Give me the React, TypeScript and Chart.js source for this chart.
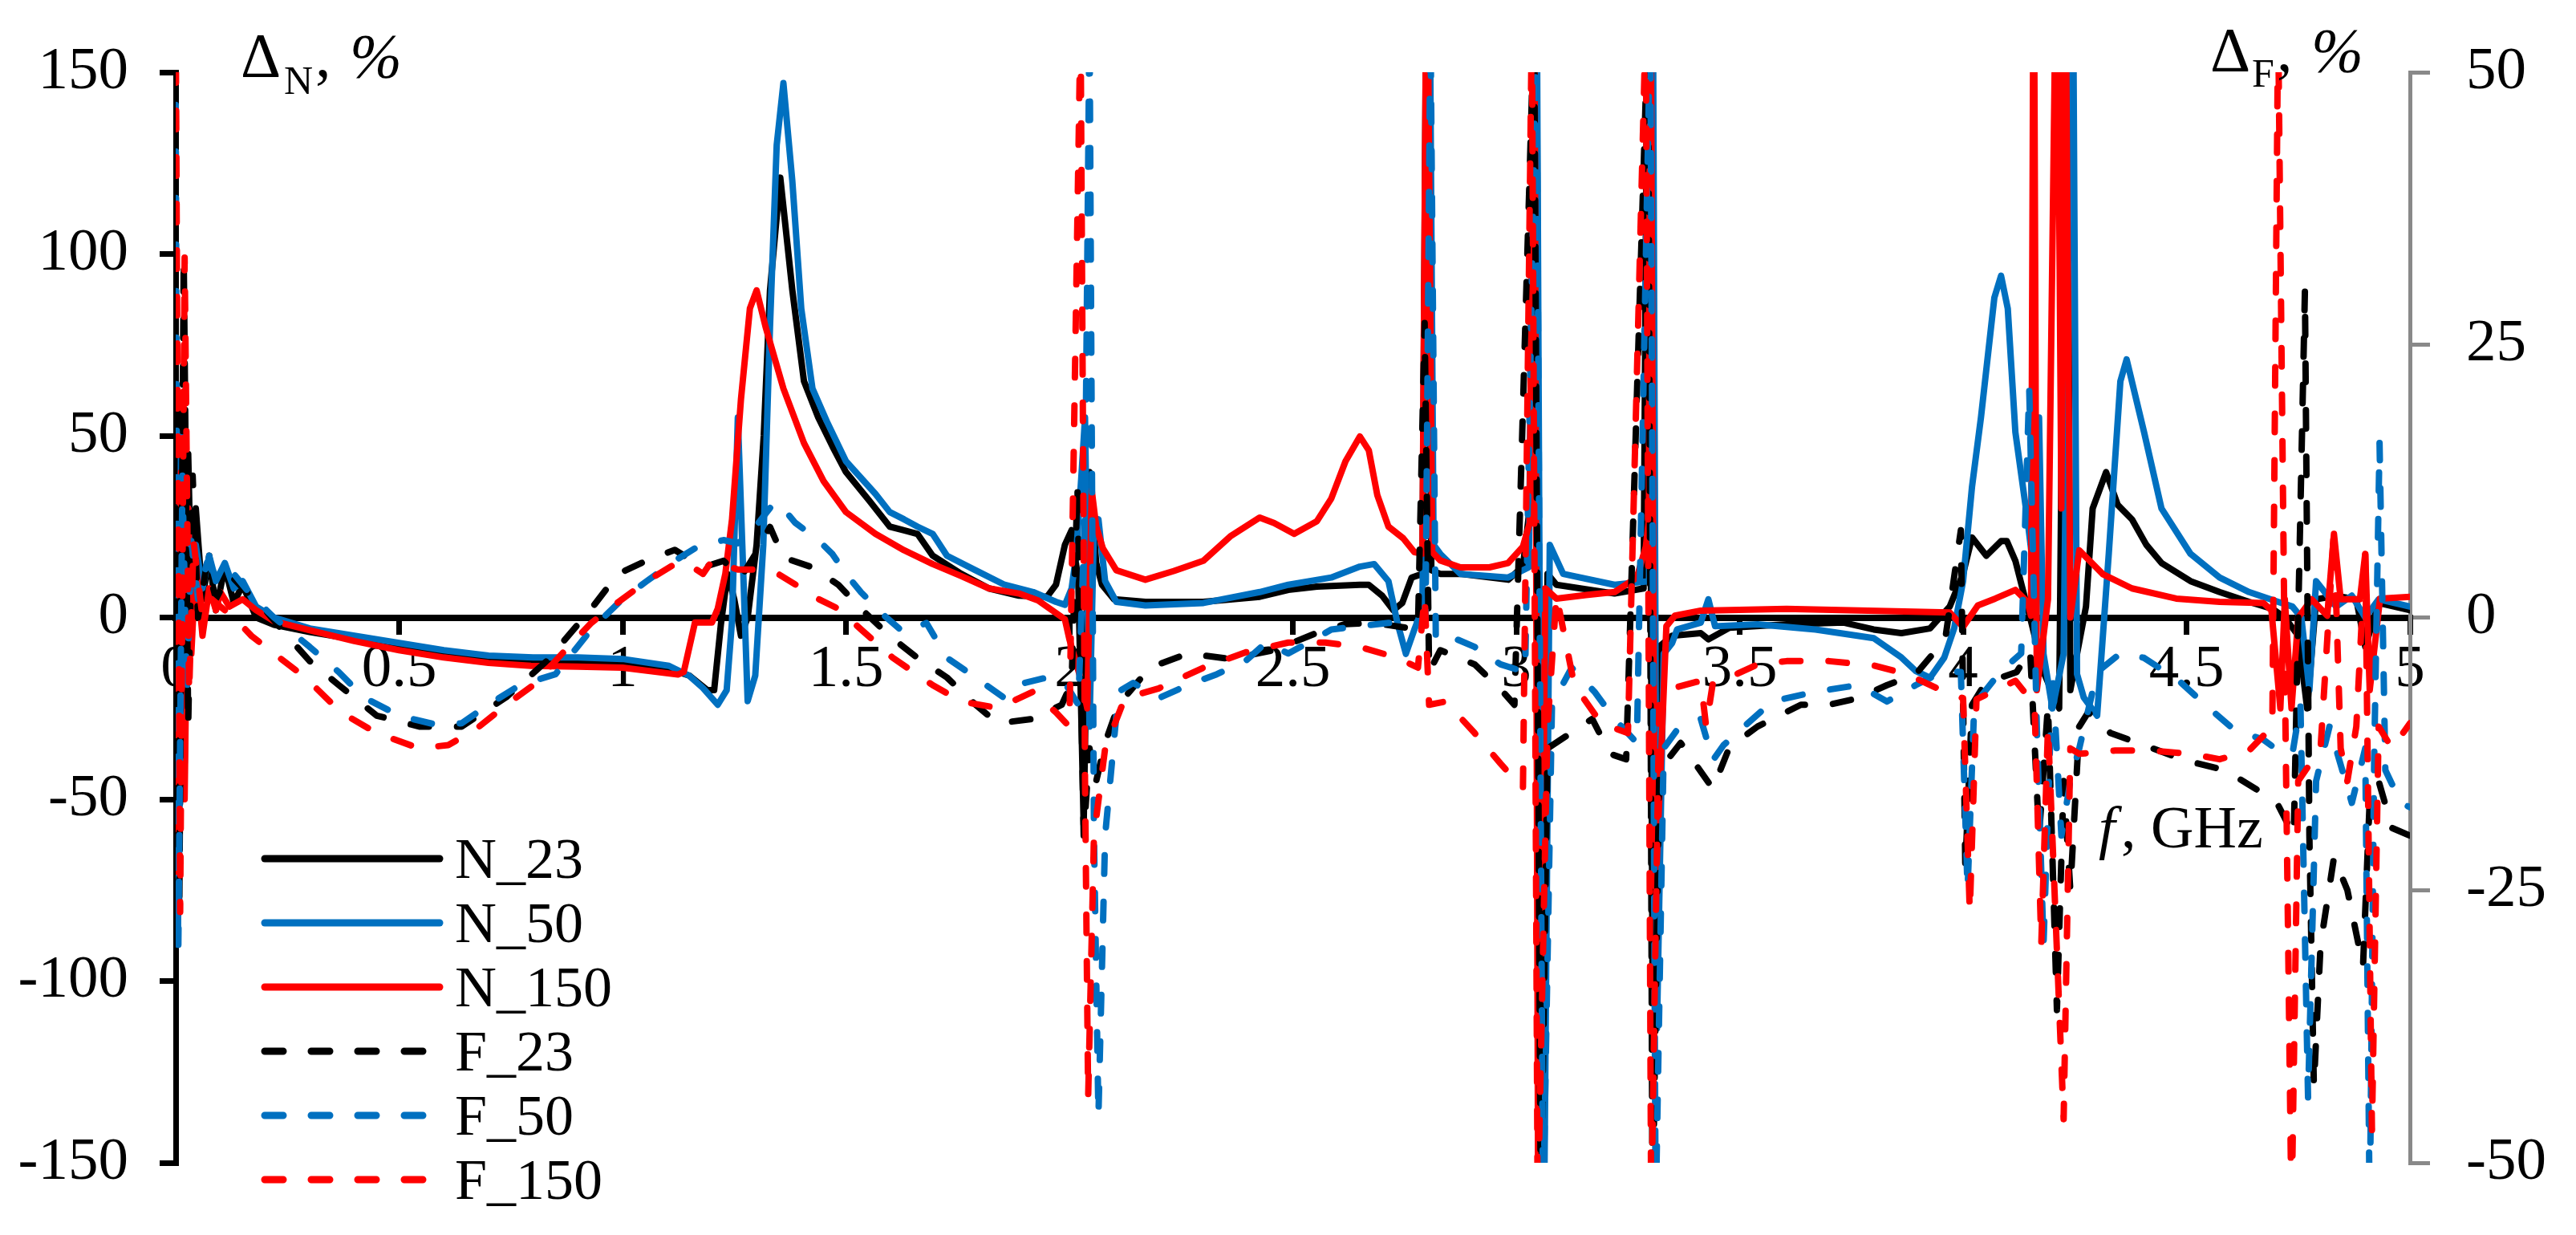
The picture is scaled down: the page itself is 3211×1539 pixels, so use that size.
import React, { useEffect, useRef } from "react";
import { Chart, registerables } from "chart.js";

Chart.register(...registerables);

const FONT = '"Liberation Serif", "Times New Roman", serif';

// ---- data: [frequency GHz, value] ----
// N series on left axis (ΔN, %), F series on right axis (ΔF, %)
const N_23: [number, number][] = [
  [0, 20], [0.005, -60], [0.012, 60], [0.02, -30], [0.028, 45], [0.035, 5], [0.045, 30], [0.06, 5],
  [0.075, 17], [0.09, 2], [0.11, 14], [0.13, 4], [0.15, 9], [0.18, 0], [0.22, -2], [0.3, -4],
  [0.4, -6], [0.5, -8], [0.6, -10], [0.7, -11], [0.8, -12], [0.9, -12], [1.0, -12.5], [1.1, -14],
  [1.15, -16], [1.19, -20], [1.205, -20], [1.22, -2], [1.235, 12], [1.25, 5], [1.265, -5], [1.28, 0],
  [1.3, 20], [1.316, 50], [1.33, 90], [1.353, 121], [1.38, 90], [1.406, 65], [1.438, 55], [1.47, 47],
  [1.5, 40], [1.553, 32], [1.598, 25], [1.63, 24], [1.66, 23], [1.694, 17], [1.758, 12], [1.82, 8],
  [1.887, 6], [1.95, 5.7], [1.97, 9], [1.99, 20], [2.005, 24], [2.02, 10], [2.032, -57], [2.045, 40],
  [2.06, 15], [2.073, 9], [2.1, 5], [2.17, 4.3], [2.3, 4.3], [2.426, 5.7], [2.49, 7.6], [2.554, 8.5],
  [2.65, 9], [2.67, 9], [2.7, 6], [2.725, 2], [2.745, 4], [2.766, 11], [2.79, 12], [2.8, 200],
  [2.81, 13], [2.83, 12], [2.875, 12], [2.982, 10.4], [3.015, 14], [3.03, 30], [3.045, 200], [3.055, -200],
  [3.07, 12], [3.09, 9], [3.22, 6.6], [3.285, 8], [3.295, 200], [3.305, -100], [3.32, -8], [3.349, -5],
  [3.413, -4.3], [3.43, -6], [3.477, -2.8], [3.605, -1.9], [3.733, -1.4], [3.8, -3.3], [3.862, -4.3], [3.926, -3],
  [3.97, 3], [4.0, 12], [4.02, 22], [4.052, 17], [4.085, 21], [4.098, 21], [4.117, 15.6], [4.137, 6],
  [4.15, 0], [4.18, -15], [4.215, -25], [4.232, 200], [4.24, -20], [4.255, -10], [4.275, 3], [4.29, 30],
  [4.32, 40], [4.346, 31], [4.378, 27], [4.41, 20], [4.444, 15], [4.509, 10], [4.574, 7], [4.64, 4.3],
  [4.692, 2.4], [4.72, 0], [4.75, -5], [4.77, -25], [4.79, 5], [4.835, 6], [4.88, 5], [4.9, -8],
  [4.93, 4], [5.0, 2],
];

const N_50: [number, number][] = [
  [0, 30], [0.005, -90], [0.012, 50], [0.02, -40], [0.028, 30], [0.035, -5], [0.045, 20], [0.06, 8],
  [0.075, 17], [0.09, 10], [0.11, 15], [0.13, 8], [0.15, 10], [0.18, 3], [0.22, 0], [0.3, -3],
  [0.4, -5], [0.5, -7], [0.6, -9], [0.7, -10.5], [0.8, -11], [0.9, -11], [1.0, -11.4], [1.104, -13.3],
  [1.149, -16], [1.18, -19.4], [1.213, -24], [1.233, -20], [1.245, -1], [1.258, 55], [1.268, 20], [1.28, -23],
  [1.297, -16], [1.315, 20], [1.33, 80], [1.345, 130], [1.36, 147], [1.38, 120], [1.4, 85], [1.425, 63],
  [1.457, 54], [1.5, 43], [1.566, 34], [1.598, 29], [1.63, 27], [1.66, 25], [1.694, 23], [1.726, 17],
  [1.79, 13], [1.855, 9], [1.919, 7], [1.97, 4.3], [1.99, 3.5], [2.005, 8], [2.015, 17], [2.028, 41],
  [2.035, 55], [2.045, -30], [2.055, 25], [2.065, 27], [2.08, 10], [2.105, 4.3], [2.17, 3.3], [2.3, 4],
  [2.426, 7], [2.49, 9], [2.586, 11], [2.65, 14], [2.682, 14.7], [2.714, 10], [2.734, -1.4], [2.753, -10],
  [2.772, -3.3], [2.79, 2.4], [2.805, 200], [2.815, 20], [2.83, 17.5], [2.875, 12], [2.982, 11], [3.028, 13.8],
  [3.045, 200], [3.06, -200], [3.075, 20], [3.105, 12], [3.22, 9], [3.297, 10], [3.305, 200], [3.315, -113],
  [3.33, -10], [3.349, -7], [3.36, -3.3], [3.413, -1.4], [3.43, 5], [3.445, -2.4], [3.54, -1.9], [3.67, -3.3],
  [3.8, -5.7], [3.862, -11], [3.894, -14.7], [3.926, -16.6], [3.958, -11], [3.98, -3], [4.0, 10], [4.02, 36],
  [4.04, 55], [4.07, 88], [4.085, 94], [4.1, 85], [4.117, 51], [4.144, 27], [4.163, 8], [4.17, 55],
  [4.18, -10], [4.2, -25], [4.225, -10], [4.245, 200], [4.255, -15.6], [4.27, -22], [4.3, -27], [4.326, 17.5],
  [4.352, 65], [4.366, 71], [4.405, 51], [4.444, 30], [4.509, 17.5], [4.574, 11], [4.64, 7], [4.705, 4.3],
  [4.737, 3], [4.757, 0], [4.775, -20], [4.79, 10], [4.835, 3], [4.87, 6], [4.9, 0], [4.93, 5],
  [5.0, 3],
];

const N_150: [number, number][] = [
  [0, 0], [0.005, -70], [0.012, 40], [0.02, -50], [0.028, 30], [0.035, -10], [0.045, 15], [0.06, -5],
  [0.075, 8], [0.09, 2], [0.1, 7], [0.12, 3], [0.15, 5], [0.18, 2], [0.22, -1], [0.3, -3.5],
  [0.4, -6.5], [0.5, -9], [0.6, -11], [0.7, -12.5], [0.795, -13.3], [0.9, -13.5], [1.0, -13.8], [1.124, -15.7],
  [1.137, -15], [1.162, -1.4], [1.2, -1.4], [1.213, 2.4], [1.23, 12], [1.245, 27], [1.265, 60], [1.285, 85],
  [1.3, 90], [1.32, 80], [1.36, 63], [1.406, 48], [1.45, 37.5], [1.5, 29], [1.566, 23], [1.63, 18.5],
  [1.694, 14.7], [1.758, 11.4], [1.82, 8], [1.887, 6.6], [1.93, 4.7], [1.99, -0.5], [2.0, -6], [2.028, -18],
  [2.04, -25], [2.05, 35], [2.06, 25], [2.075, 19], [2.105, 13], [2.17, 10.4], [2.234, 12.8], [2.3, 15.6],
  [2.36, 22.3], [2.426, 27.5], [2.458, 26], [2.503, 23], [2.554, 26.5], [2.586, 32.7], [2.618, 43], [2.65, 49.8],
  [2.67, 46], [2.689, 33.7], [2.714, 25], [2.747, 21.8], [2.772, 18], [2.79, 17.6], [2.8, 200], [2.812, 18],
  [2.83, 15.7], [2.875, 13.8], [2.94, 13.8], [2.982, 15], [3.015, 19.5], [3.03, 26], [3.04, 200], [3.05, -200],
  [3.065, 8], [3.09, 5.2], [3.156, 6.2], [3.22, 7], [3.27, 11], [3.29, 19.5], [3.297, 27], [3.3, 200],
  [3.31, -80], [3.336, -2.4], [3.355, 0.5], [3.413, 1.9], [3.605, 2.4], [3.97, 1.4], [4.0, -2.6], [4.033, 3.3],
  [4.072, 5.2], [4.117, 7.6], [4.144, 4.3], [4.152, 0.5], [4.158, 200], [4.165, -20], [4.19, 5], [4.21, 200],
  [4.22, 30], [4.228, 200], [4.24, 0], [4.26, 18.5], [4.313, 11.9], [4.378, 8], [4.477, 5.2], [4.574, 4.3],
  [4.672, 4], [4.69, 2], [4.71, -25], [4.72, 5], [4.735, -25], [4.75, 0], [4.78, 5], [4.815, 0.5],
  [4.83, 23], [4.845, 5], [4.888, 5], [4.9, 17.5], [4.91, -20], [4.933, 5.2], [5.0, 5.7],
];

const F_23: [number, number][] = [
  [0, 10], [0.008, -27], [0.018, 33], [0.028, -10], [0.038, 13], [0.05, 0], [0.07, 5], [0.09, 1.7],
  [0.12, 4], [0.15, 2.7], [0.2, 0.7], [0.25, -1.7], [0.3, -4], [0.365, -6.2], [0.45, -9], [0.545, -10],
  [0.64, -10], [0.74, -7.3], [0.83, -4], [0.93, 0.8], [0.99, 4], [1.053, 5.2], [1.117, 6.2], [1.18, 4.6],
  [1.226, 5.2], [1.265, 3.7], [1.297, 5.8], [1.33, 8.3], [1.36, 5.5], [1.425, 4.6], [1.483, 3], [1.534, 0.8],
  [1.598, -1.7], [1.66, -3.7], [1.726, -5.5], [1.79, -8], [1.84, -9.7], [1.919, -9.3], [1.983, -8], [2.005, -6],
  [2.018, 12], [2.032, -20], [2.045, -12], [2.06, -15], [2.08, -11.5], [2.11, -8], [2.18, -4.6], [2.265, -3.3],
  [2.36, -3.8], [2.458, -3], [2.554, -1.4], [2.618, -0.6], [2.682, -0.5], [2.78, -1.1], [2.795, 27], [2.805, -5],
  [2.83, -3], [2.907, -4.3], [2.97, -6.8], [2.996, -8], [3.04, 55], [3.055, -55], [3.07, -12], [3.17, -9.3],
  [3.21, -12.5], [3.246, -13], [3.295, 55], [3.305, -55], [3.32, -14], [3.368, -11.5], [3.44, -15.7], [3.477, -11.9],
  [3.54, -10], [3.637, -8], [3.7, -8], [3.765, -7.4], [3.83, -6.2], [3.894, -5.2], [3.96, -2], [3.995, 8],
  [4.005, -23], [4.02, -8], [4.05, -6], [4.12, -5], [4.15, -3], [4.17, -20], [4.19, -8], [4.21, -36],
  [4.225, -15], [4.24, -25], [4.26, -10], [4.28, -8.7], [4.33, -10.6], [4.418, -11.9], [4.496, -13.1], [4.587, -14],
  [4.666, -16], [4.705, -17.2], [4.74, -20], [4.765, 30], [4.775, -20], [4.785, -43], [4.8, -30], [4.83, -22],
  [4.86, -25], [4.895, -32], [4.91, -16.7], [4.93, -15], [4.96, -19.3], [5.0, -20],
];

const F_50: [number, number][] = [
  [0, 47], [0.006, -30], [0.015, 13], [0.025, -7], [0.035, 7], [0.05, 1.7], [0.07, 5], [0.1, 3.3],
  [0.13, 4], [0.17, 2], [0.22, 0], [0.3, -2.7], [0.365, -5], [0.42, -7.3], [0.5, -9], [0.58, -9.8],
  [0.64, -9.7], [0.7, -8], [0.77, -6.2], [0.85, -5.2], [0.93, -1.1], [1.0, 1.7], [1.053, 3.3], [1.117, 5.2],
  [1.168, 6.5], [1.226, 7.1], [1.258, 6.8], [1.297, 8.3], [1.335, 10.3], [1.348, 10.6], [1.386, 8.7], [1.438, 7.1],
  [1.47, 5.8], [1.5, 4], [1.534, 2.3], [1.585, 0.2], [1.63, -1.4], [1.68, -0.5], [1.726, -3.7], [1.79, -5.5],
  [1.855, -7.4], [1.9, -6], [1.95, -5.5], [1.99, -6], [2.02, -8], [2.035, 10], [2.045, 55], [2.055, -20],
  [2.065, -45.7], [2.08, -20], [2.11, -6.8], [2.143, -6], [2.2, -7.4], [2.265, -6.2], [2.33, -5.2], [2.394, -4],
  [2.44, -2.3], [2.49, -3.3], [2.535, -2.3], [2.586, -1.1], [2.65, -0.8], [2.714, -0.5], [2.766, -0.5], [2.797, -0.3],
  [2.808, 55], [2.82, -2], [2.85, -1.7], [2.907, -2.7], [2.965, -4.3], [3.02, -5], [3.045, 55], [3.06, -55],
  [3.08, -8], [3.124, -4.6], [3.175, -6.8], [3.22, -9.3], [3.27, -11.5], [3.3, 55], [3.312, -55], [3.33, -12],
  [3.36, -10.3], [3.413, -9.3], [3.44, -13.1], [3.464, -11.7], [3.51, -10], [3.573, -7.7], [3.67, -6.8], [3.765, -6.2],
  [3.83, -7.7], [3.894, -6.2], [3.958, -4.9], [3.995, -5], [4.01, -25], [4.025, -8], [4.085, -4.9], [4.13, -3.3],
  [4.148, 21], [4.165, -10], [4.18, -30], [4.2, -5], [4.22, -20], [4.24, -15], [4.26, -12], [4.3, -5],
  [4.352, -3.3], [4.405, -3.7], [4.483, -5.8], [4.542, -8], [4.607, -10.3], [4.672, -11.2], [4.705, -12.2], [4.737, -12.5],
  [4.755, -8], [4.772, -44], [4.79, -15], [4.82, -10], [4.87, -17], [4.9, -12], [4.91, -55], [4.92, -13],
  [4.932, 16], [4.945, -14], [4.98, -17], [5.0, -17.4],
];

const F_150: [number, number][] = [
  [0, 55], [0.01, -27], [0.02, 33], [0.03, -7], [0.04, 7], [0.06, 0], [0.08, 1.7], [0.1, 1],
  [0.13, 0], [0.17, -1.7], [0.22, -3.3], [0.29, -5.5], [0.37, -8.7], [0.45, -10.6], [0.545, -12], [0.61, -11.7],
  [0.67, -10.3], [0.74, -8], [0.8, -6.2], [0.865, -3.3], [0.93, -0.5], [0.99, 1.4], [1.053, 3.3], [1.117, 4.9],
  [1.143, 5], [1.18, 4], [1.2, 5.2], [1.258, 4.4], [1.31, 4.4], [1.348, 4], [1.4, 2.7], [1.438, 1.7],
  [1.483, 0.8], [1.534, -1.1], [1.605, -3.7], [1.694, -6.2], [1.758, -7.7], [1.84, -8.3], [1.919, -6.8], [1.97, -8.7],
  [2.0, -10], [2.025, 55], [2.035, -15], [2.042, -44], [2.055, -20], [2.08, -12], [2.124, -7.4], [2.2, -6.5],
  [2.3, -4.6], [2.394, -3.2], [2.49, -2.3], [2.573, -2.3], [2.65, -2.7], [2.734, -3.7], [2.78, -4.6], [2.795, 2],
  [2.805, -8], [2.842, -7.7], [2.907, -10.6], [2.965, -13.4], [3.015, -15.7], [3.035, 55], [3.048, -55], [3.07, -10],
  [3.09, 2], [3.13, -6.2], [3.19, -9.7], [3.25, -10.6], [3.29, 55], [3.302, -55], [3.32, -8], [3.349, -6.5],
  [3.413, -5.8], [3.425, -10], [3.44, -6], [3.477, -5.5], [3.54, -4.3], [3.605, -4], [3.7, -4], [3.8, -4.4],
  [3.875, -5.2], [3.958, -6.8], [4.0, -7.4], [4.015, -27], [4.03, -7.5], [4.117, -5.8], [4.16, -8], [4.175, -30],
  [4.19, -10], [4.225, -46], [4.24, -12], [4.26, -12.5], [4.34, -12.2], [4.418, -12.2], [4.509, -12.5], [4.574, -13],
  [4.64, -12.2], [4.692, -10], [4.705, 55], [4.72, -5], [4.735, -55], [4.75, -15], [4.8, -12], [4.83, 8],
  [4.845, -12], [4.86, -15], [4.88, -10], [4.9, 6], [4.915, -47], [4.93, -10], [4.96, -12], [5.0, -9.7],
];

const LEGEND_LABELS = ["N_23", "N_50", "N_150", "F_23", "F_50", "F_150"];
const X_TICK_STEP = 0.5;
const Y_LEFT_RANGE = [-150, 150];
const Y_RIGHT_RANGE = [-50, 50];

const BLACK = "#000000";
const BLUE = "#0070C0";
const RED = "#FF0000";
const DASH = [23, 35];

const SERIES = [
  { label: LEGEND_LABELS[0], pts: N_23, color: BLACK, dashed: false, axis: "y" },
  { label: LEGEND_LABELS[1], pts: N_50, color: BLUE, dashed: false, axis: "y" },
  { label: LEGEND_LABELS[2], pts: N_150, color: RED, dashed: false, axis: "y" },
  { label: LEGEND_LABELS[3], pts: F_23, color: BLACK, dashed: true, axis: "y2" },
  { label: LEGEND_LABELS[4], pts: F_50, color: BLUE, dashed: true, axis: "y2" },
  { label: LEGEND_LABELS[5], pts: F_150, color: RED, dashed: true, axis: "y2" },
];

const overlayPlugin = {
  id: "overlay",
  afterDraw(chart: any) {
    const ctx = chart.ctx as CanvasRenderingContext2D;
    ctx.save();
    ctx.fillStyle = "#000";
    ctx.textAlign = "left";
    ctx.textBaseline = "alphabetic";
    const big = `78px ${FONT}`;
    const sub = `50px ${FONT}`;
    const ital = `italic 78px ${FONT}`;
    // ΔN, %
    ctx.font = big;
    ctx.fillText("Δ", 300, 95);
    ctx.font = sub;
    ctx.fillText("N", 354, 117);
    ctx.font = big;
    ctx.fillText(",", 393, 95);
    ctx.font = ital;
    ctx.fillText("%", 436, 96);
    // ΔF, %
    ctx.font = big;
    ctx.fillText("Δ", 2755, 88);
    ctx.font = sub;
    ctx.fillText("F", 2807, 108);
    ctx.font = big;
    ctx.fillText(",", 2838, 88);
    ctx.font = ital;
    ctx.fillText("%", 2881, 89);
    // f, GHz
    ctx.font = `italic 74px ${FONT}`;
    ctx.fillText("f", 2616, 1056);
    ctx.font = `74px ${FONT}`;
    ctx.fillText(", GHz", 2644, 1056);

    // legend
    SERIES.forEach((s, i) => {
      const y = 1070 + i * 80;
      ctx.save();
      ctx.strokeStyle = s.color;
      ctx.lineWidth = 9;
      ctx.lineCap = "round";
      ctx.setLineDash(s.dashed ? DASH : []);
      ctx.beginPath();
      ctx.moveTo(330, y);
      ctx.lineTo(548, y);
      ctx.stroke();
      ctx.restore();
      ctx.font = `72px ${FONT}`;
      ctx.fillStyle = "#000";
      ctx.fillText(s.label, 567, y + 24);
    });
    ctx.restore();
  },
};

export default function App() {
  const ref = useRef<HTMLCanvasElement | null>(null);
  useEffect(() => {
    document.body.style.margin = "0";
    document.body.style.overflow = "hidden";
    const canvas = ref.current;
    if (!canvas) return;
    const datasets = SERIES.map((s, i) => ({
      label: s.label,
      data: s.pts.map(([x, y]) => ({ x, y })),
      borderColor: s.color,
      backgroundColor: s.color,
      borderWidth: 8,
      borderDash: s.dashed ? DASH : [],
      borderCapStyle: "round" as const,
      borderJoinStyle: "round" as const,
      pointRadius: 0,
      tension: 0,
      yAxisID: s.axis,
      order: SERIES.length - i,
      clip: 0,
    }));
    const chart = new Chart(canvas, {
      type: "line",
      data: { datasets },
      plugins: [overlayPlugin],
      options: {
        animation: false,
        responsive: false,
        devicePixelRatio: 1,
        layout: { padding: { top: 49, bottom: 79, left: 0, right: 0 } },
        plugins: { legend: { display: false }, tooltip: { enabled: false } },
        scales: {
          x: {
            type: "linear",
            min: 0,
            max: 5,
            position: { y: 0 } as any,
            ticks: {
              stepSize: X_TICK_STEP,
              autoSkip: false,
              maxRotation: 0,
              color: "#000",
              font: { family: FONT, size: 75 },
              padding: 4,
              callback: (v: any) => String(Math.round(Number(v) * 10) / 10),
            },
            grid: { drawOnChartArea: false, drawTicks: true, tickLength: 17, color: "#000", lineWidth: 7 },
            border: { color: "#000", width: 8 },
          },
          y: {
            type: "linear",
            position: "left",
            min: Y_LEFT_RANGE[0],
            max: Y_LEFT_RANGE[1],
            ticks: { stepSize: 50, color: "#000", font: { family: FONT, size: 75 }, padding: 39 },
            grid: { drawOnChartArea: false, tickLength: 20, color: "#000", lineWidth: 7 },
            border: { color: "#000", width: 7 },
            afterFit: (s: any) => { s.width = 219; },
          },
          y2: {
            type: "linear",
            position: "right",
            min: Y_RIGHT_RANGE[0],
            max: Y_RIGHT_RANGE[1],
            ticks: { stepSize: 25, color: "#000", font: { family: FONT, size: 75 }, padding: 45 },
            grid: { drawOnChartArea: false, tickLength: 25, color: "#898989", lineWidth: 5 },
            border: { color: "#898989", width: 5 },
            afterFit: (s: any) => { s.width = 207; },
          },
        },
      } as any,
    });
    return () => chart.destroy();
  }, []);
  return (
    <div style={{ width: 3211, height: 1539, position: "relative" }}>
      <canvas ref={ref} width={3211} height={1539} style={{ display: "block" }} />
    </div>
  );
}
